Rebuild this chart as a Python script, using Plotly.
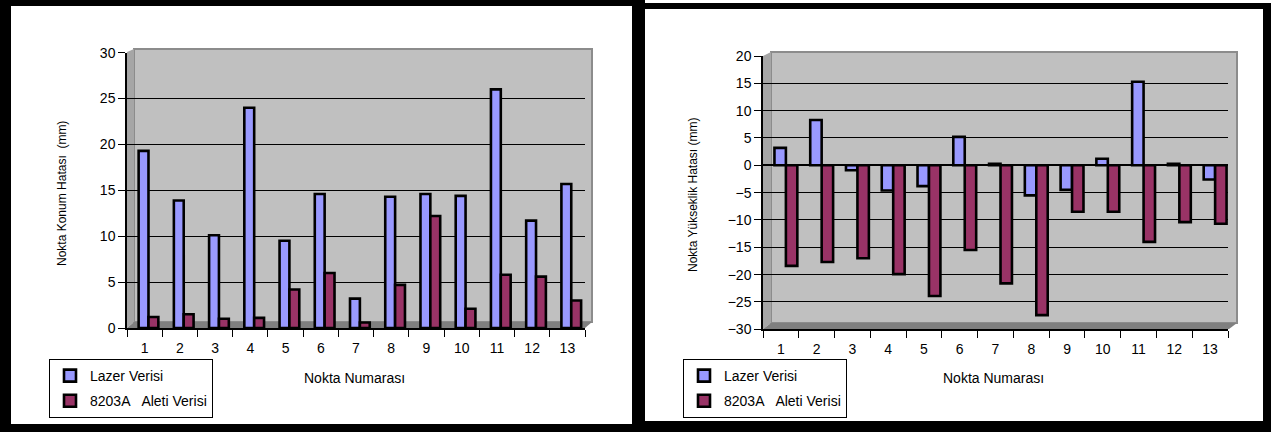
import plotly.graph_objects as go

W, H = 1271, 432

# ---------------- data ----------------
points = [str(i) for i in range(1, 14)]
lazer_konum = [19.3, 13.9, 10.1, 24.0, 9.5, 14.6, 3.2, 14.3, 14.6, 14.4, 26.0, 11.7, 15.7]
alet_konum = [1.2, 1.5, 1.0, 1.1, 4.2, 6.0, 0.6, 4.7, 12.2, 2.1, 5.8, 5.6, 3.0]
lazer_yuk = [3.2, 8.3, -0.9, -4.6, -3.8, 5.2, 0.3, -5.5, -4.5, 1.2, 15.3, 0.3, -2.6]
alet_yuk = [-18.4, -17.7, -17.0, -19.9, -23.9, -15.5, -21.6, -27.4, -8.5, -8.5, -14.0, -10.4, -10.7]

series_names = ["Lazer Verisi", "8203A\u00a0\u00a0 Aleti Verisi"]
x_title = "Nokta Numarası"
y_title_left = "Nokta Konum Hatası\u00a0 (mm)"
y_title_right = "Nokta Yükseklik Hatası (mm)"

BLUE = "#9999FF"
PLUM = "#993366"
FONT = "Liberation Sans, Arial, sans-serif"


def fx(p):
    return p / W


def fy(p):
    return 1 - p / H


fig = go.Figure()

BAR_LINE = dict(color="black", width=2.6)

# left chart
fig.add_bar(x=points, y=lazer_konum, name=series_names[0], xaxis="x", yaxis="y",
            marker=dict(color=BLUE, line=BAR_LINE),
            width=0.28, offset=-0.17, legend="legend", legendgroup="a")
fig.add_bar(x=points, y=alet_konum, name=series_names[1], xaxis="x", yaxis="y",
            marker=dict(color=PLUM, line=BAR_LINE),
            width=0.28, offset=0.11, legend="legend", legendgroup="b")
# right chart
fig.add_bar(x=points, y=lazer_yuk, name=series_names[0], xaxis="x2", yaxis="y2",
            marker=dict(color=BLUE, line=BAR_LINE),
            width=0.32, offset=-0.18, legend="legend2", legendgroup="c")
fig.add_bar(x=points, y=alet_yuk, name=series_names[1], xaxis="x2", yaxis="y2",
            marker=dict(color=PLUM, line=BAR_LINE),
            width=0.32, offset=0.14, legend="legend2", legendgroup="d")

xcommon = dict(type="category", tickson="boundaries", ticks="outside", ticklen=7,
               tickcolor="black", showline=True, linecolor="black", linewidth=1.5,
               showgrid=False, zeroline=False, ticklabelstandoff=6, automargin=False,
               tickfont=dict(size=14, color="black", family=FONT))
ycommon = dict(ticks="outside", ticklen=7, tickcolor="black", showline=True,
               linecolor="black", linewidth=1.5, dtick=5, showgrid=True,
               gridcolor="black", gridwidth=1, automargin=False,
               tickfont=dict(size=14, color="black", family=FONT))

shapes = []


def rect(x0, y0, x1, y1, fill, line=None, layer="above"):
    d = dict(type="rect", xref="paper", yref="paper", x0=fx(x0), x1=fx(x1),
             y0=fy(y0), y1=fy(y1), fillcolor=fill, layer=layer,
             line=dict(width=0) if line is None else line)
    shapes.append(d)


def poly(pts, fill):
    path = "M " + " L ".join(f"{fx(a):.5f},{fy(b):.5f}" for a, b in pts) + " Z"
    shapes.append(dict(type="path", xref="paper", yref="paper", path=path,
                       fillcolor=fill, line=dict(width=0), layer="below"))


# 3D walls (left chart)
rect(134, 49, 592, 322, "#C0C0C0", line=dict(color="#8C8C8C", width=2), layer="below")
poly([(127, 52), (134, 49), (134, 322), (127, 328)], "#A6A6A6")
poly([(127, 328), (134, 322), (592, 322), (585, 328)], "#7F7F7F")
# 3D walls (right chart)
rect(771, 52, 1237, 323, "#C0C0C0", line=dict(color="#8C8C8C", width=2), layer="below")
poly([(763, 56), (771, 52), (771, 323), (763, 329)], "#A6A6A6")
poly([(763, 329), (771, 323), (1237, 323), (1229, 329)], "#7F7F7F")

# black frames
rect(0, 0, 638, 6, "black")
rect(0, 0, 11, 432, "black")
rect(0, 424, 638, 432, "black")
rect(632, 0, 645, 432, "black")
rect(638, 3, 1271, 9, "black")
rect(1263, 3, 1271, 432, "black")
rect(638, 421, 1271, 432, "black")

legend_common = dict(xanchor="left", yanchor="top", bgcolor="white",
                     bordercolor="black", borderwidth=1, itemwidth=30,
                     traceorder="grouped", tracegroupgap=4,
                     font=dict(size=14, color="black", family=FONT))


def ann(text, x, y, size, angle=0):
    return dict(text=text, xref="paper", yref="paper", x=fx(x), y=fy(y),
                xanchor="center", yanchor="middle", textangle=angle,
                showarrow=False, font=dict(size=size, family=FONT, color="black"))


fig.update_layout(
    width=W, height=H,
    margin=dict(l=0, r=0, t=0, b=0, pad=0, autoexpand=False),
    paper_bgcolor="white", plot_bgcolor="rgba(0,0,0,0)",
    font=dict(family=FONT, color="black"),
    barmode="group",
    xaxis=dict(domain=[fx(127), fx(585)], anchor="y", **xcommon),
    yaxis=dict(domain=[fy(328), fy(52.7)], anchor="x", range=[0, 30],
               zeroline=False, **ycommon),
    xaxis2=dict(domain=[fx(763), fx(1228)], anchor="y2", **xcommon),
    yaxis2=dict(domain=[fy(329.3), fy(56)], anchor="x2", range=[-30, 20],
                zeroline=True, zerolinecolor="black", zerolinewidth=1.5, **ycommon),
    legend=dict(x=fx(49), y=fy(359), **legend_common),
    legend2=dict(x=fx(683), y=fy(359), **legend_common),
    shapes=shapes,
    annotations=[
        ann(x_title, 354, 378, 14),
        ann(x_title, 993, 378, 14),
        ann(y_title_left, 62, 194, 12, -90),
        ann(y_title_right, 693, 195, 12, -90),
    ],
)

fig.write_html(
    "out.html",
    config={"displayModeBar": False},
    post_script=(
        "document.documentElement.style.margin='0';"
        "document.body.style.margin='0';"
        "document.body.style.overflow='hidden';"
    ),
)
